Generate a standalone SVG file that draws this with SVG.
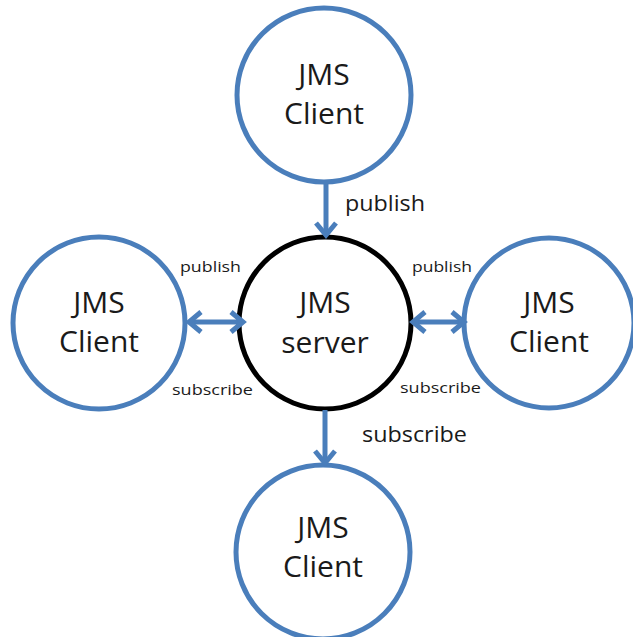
<svg xmlns="http://www.w3.org/2000/svg" width="633" height="637" viewBox="0 0 633 637">
<style>
.c{fill:#fff;stroke:#4a7ebb;stroke-width:5}
.s{fill:#fff;stroke:#000;stroke-width:5}
.t{font-family:"Open Sans","Liberation Sans",sans-serif;font-size:30px;fill:#1a1a1a;text-anchor:middle}
.l{font-family:"Open Sans","Liberation Sans",sans-serif;font-size:21px;fill:#1a1a1a}
.sl{font-family:"Open Sans","Liberation Sans",sans-serif;font-size:15px;fill:#1a1a1a}
.a{fill:none;stroke:#4a7ebb;stroke-width:5}
</style>
<g id="top"><circle class="c" cx="324" cy="95" r="87"/><text class="t" x="324" y="85">JMS</text><text class="t" x="324" y="124">Client</text></g>
<g id="server"><circle class="s" cx="325" cy="323" r="86"/><text class="t" x="325" y="313">JMS</text><text class="t" x="325" y="353">server</text></g>
<g id="left"><circle class="c" cx="99" cy="323" r="86"/><text class="t" x="99" y="313">JMS</text><text class="t" x="99" y="352">Client</text></g>
<g id="right"><circle class="c" cx="549" cy="323" r="85"/><text class="t" x="549" y="313">JMS</text><text class="t" x="549" y="352">Client</text></g>
<g id="bottom"><circle class="c" cx="323" cy="552" r="87"/><text class="t" x="323" y="538">JMS</text><text class="t" x="323" y="577">Client</text></g>
<g id="connectors">
<line class="a" x1="326" y1="183" x2="326" y2="235"/><polyline class="a" points="316,223 326,235 336,223"/>
<line class="a" x1="325" y1="410" x2="325" y2="463"/><polyline class="a" points="315,451 325,463 335,451"/>
<line class="a" x1="189" y1="322" x2="243" y2="322"/><polyline class="a" points="201,312 189,322 201,332"/><polyline class="a" points="231,312 243,322 231,332"/>
<line class="a" x1="413" y1="322" x2="464" y2="322"/><polyline class="a" points="425,312 413,322 425,332"/><polyline class="a" points="452,312 464,322 452,332"/>
</g>
<text class="l" x="345" y="211" textLength="80" lengthAdjust="spacingAndGlyphs">publish</text>
<text class="l" x="362" y="442" textLength="105" lengthAdjust="spacingAndGlyphs">subscribe</text>
<text class="sl" x="180" y="272" textLength="61" lengthAdjust="spacingAndGlyphs">publish</text>
<text class="sl" x="172" y="395" textLength="81" lengthAdjust="spacingAndGlyphs">subscribe</text>
<text class="sl" x="412" y="272" textLength="60" lengthAdjust="spacingAndGlyphs">publish</text>
<text class="sl" x="400" y="393" textLength="81" lengthAdjust="spacingAndGlyphs">subscribe</text>
</svg>
